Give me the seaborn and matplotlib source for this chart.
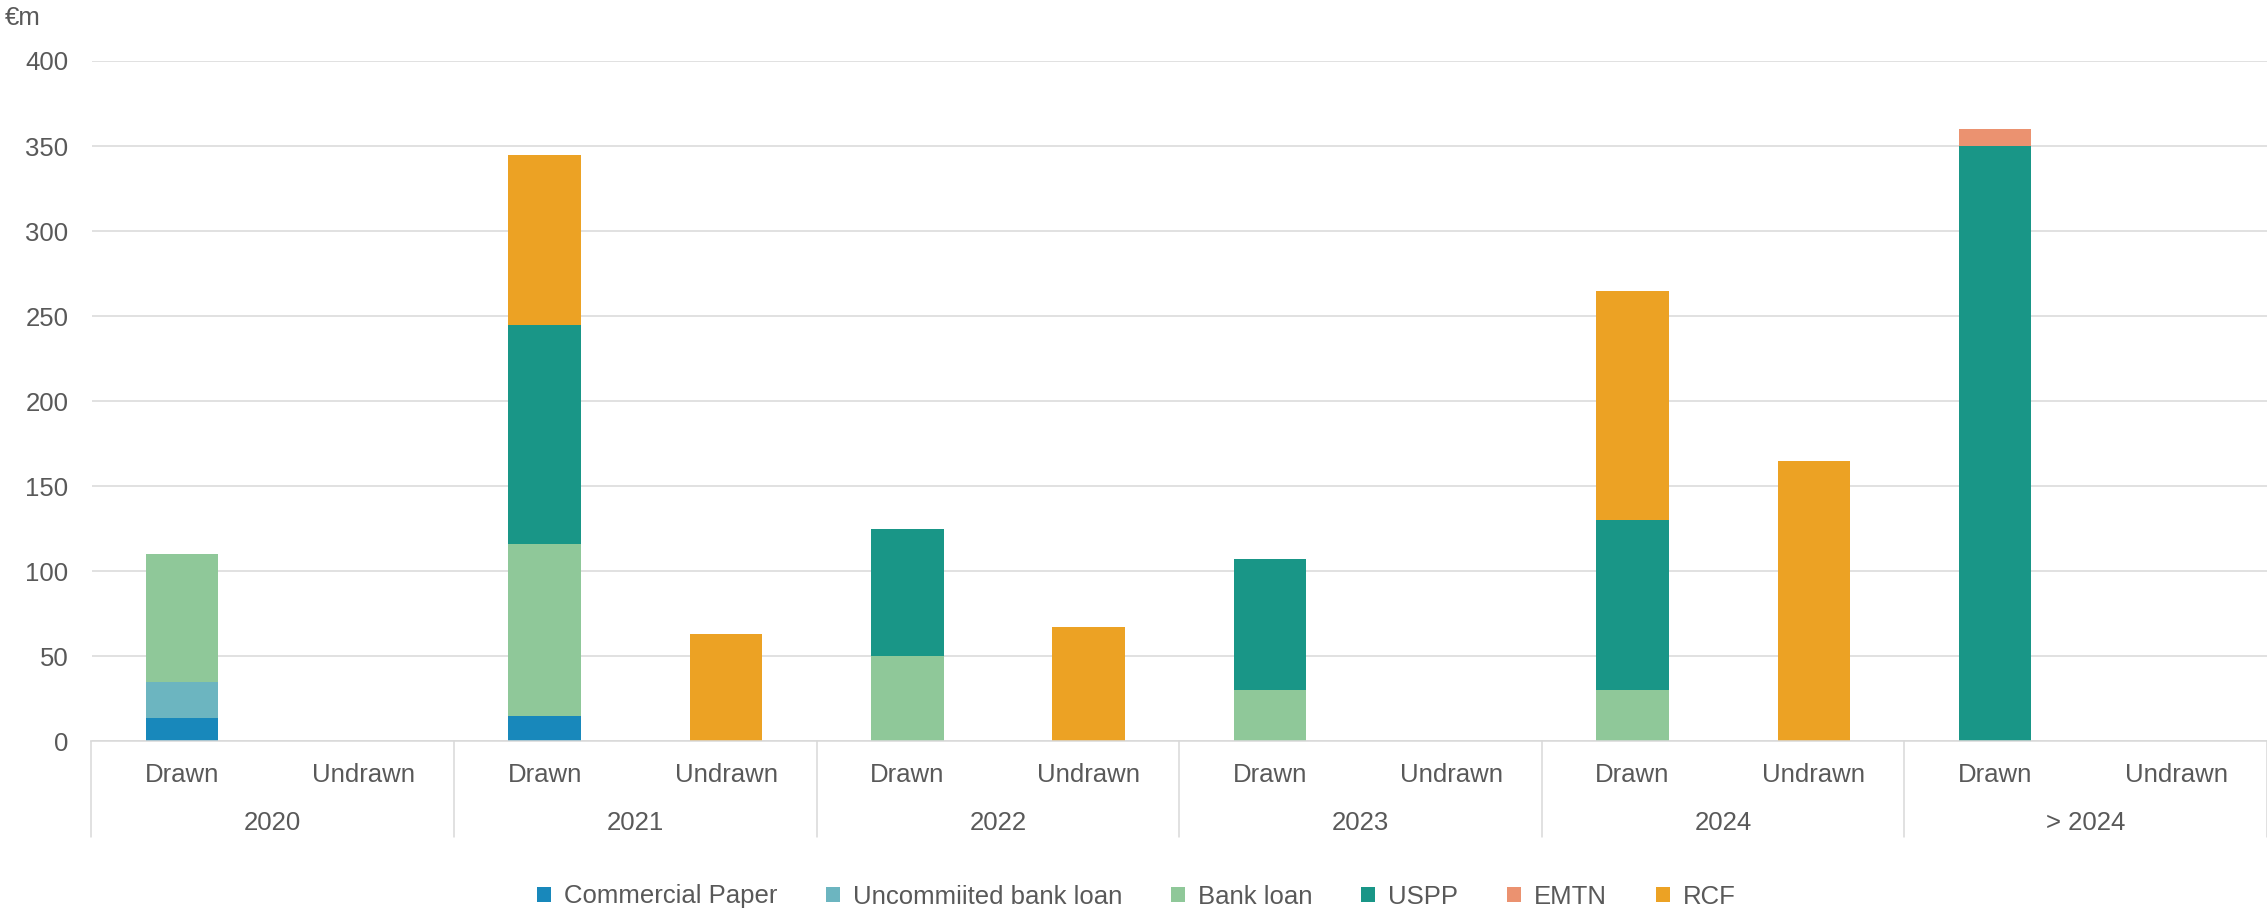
import matplotlib
matplotlib.use("Agg")
import matplotlib.pyplot as plt
import matplotlib.transforms as mtransforms
from matplotlib.lines import Line2D
from matplotlib.patches import Patch
import numpy as np
import seaborn as sns

# Maturity buckets and facility type within each bucket
years = ["2020", "2021", "2022", "2023", "2024", "> 2024"]
kinds = ["Drawn", "Undrawn"]

# Amounts in €m, one value per slot:
# 2020 D, 2020 U, 2021 D, 2021 U, 2022 D, 2022 U, 2023 D, 2023 U, 2024 D, 2024 U, >2024 D, >2024 U
commercial_paper = [14, 0, 15, 0, 0, 0, 0, 0, 0, 0, 0, 0]
uncommitted_bank_loan = [21, 0, 0, 0, 0, 0, 0, 0, 0, 0, 0, 0]
bank_loan = [75, 0, 101, 0, 50, 0, 30, 0, 30, 0, 0, 0]
uspp = [0, 0, 129, 0, 75, 0, 77, 0, 100, 0, 350, 0]
emtn = [0, 0, 0, 0, 0, 0, 0, 0, 0, 0, 10, 0]
rcf = [0, 0, 100, 63, 0, 67, 0, 0, 135, 165, 0, 0]

series_names = ["Commercial Paper", "Uncommiited bank loan", "Bank loan",
                "USPP", "EMTN", "RCF"]
series_values = [commercial_paper, uncommitted_bank_loan, bank_loan,
                 uspp, emtn, rcf]
series_colors = ["#1888bb", "#6cb5c0", "#8fc899", "#199687", "#eb9270", "#eca224"]

yticks = [0, 50, 100, 150, 200, 250, 300, 350, 400]

TEXT = "#595959"
GRID = "#d9d9d9"
FS = 18.5

sns.set_style("white")
plt.rcParams["font.family"] = ["Liberation Sans", "DejaVu Sans"]

W, H = 2267, 911
fig = plt.figure(figsize=(W / 100, H / 100), dpi=100)
ax = fig.add_axes([91.5 / W, (H - 741.4) / H, (W - 91.5) / W, (741.4 - 61.0) / H])

slots = [f"{y} {k}" for y in years for k in kinds]
stack = np.array(series_values, dtype=float)
cum = np.cumsum(stack, axis=0)

# Stacked bars: paint cumulative totals from the top series down
for i in reversed(range(len(series_names))):
    sns.barplot(x=slots, y=cum[i], order=slots, color=series_colors[i],
                saturation=1, width=0.4, linewidth=0, ax=ax)

ax.set_xlim(-0.5, len(slots) - 0.5)
ax.set_ylim(0, 400)
ax.set_yticks(yticks)
ax.set_yticklabels([str(t) for t in yticks])
ax.yaxis.grid(True, color=GRID, linewidth=1.1)
ax.set_axisbelow(True)
ax.tick_params(axis="y", length=0, pad=16.5, labelsize=FS, labelcolor=TEXT)
ax.set_xticks([])
ax.set_xlabel("")
ax.set_ylabel("")
for side in ["top", "right", "left"]:
    ax.spines[side].set_visible(False)
ax.spines["bottom"].set_color(GRID)
ax.spines["bottom"].set_linewidth(1.1)

# Two-level category axis: facility type, then year, with separators
tr = mtransforms.blended_transform_factory(ax.transData, fig.transFigure)
for j, slot in enumerate(slots):
    ax.text(j, 1 - 782.0 / H, kinds[j % 2], transform=tr, ha="center",
            va="baseline", fontsize=FS, color=TEXT)
for g, y in enumerate(years):
    ax.text(2 * g + 0.5, 1 - 830.0 / H, y, transform=tr, ha="center",
            va="baseline", fontsize=FS, color=TEXT)
for b in range(len(years) + 1):
    x = 2 * b - 0.5
    fig.add_artist(Line2D([x, x], [1 - 741.4 / H, 1 - 837.0 / H], transform=tr,
                          color=GRID, linewidth=1.1, clip_on=False))

# Unit label
fig.text(5 / W, 1 - 25.0 / H, "€m", ha="left", va="baseline",
         fontsize=FS, color=TEXT)

handles = [Patch(facecolor=c, edgecolor="none") for c in series_colors]
fig.legend(handles, series_names, loc="center", bbox_to_anchor=(0.5012, 1 - 896.5 / H),
           ncol=6, frameon=False, fontsize=FS, labelcolor=TEXT,
           handlelength=0.55, handleheight=0.55, handletextpad=0.5,
           columnspacing=1.9, borderpad=0, borderaxespad=0)

fig.savefig("out.png", dpi=100)
